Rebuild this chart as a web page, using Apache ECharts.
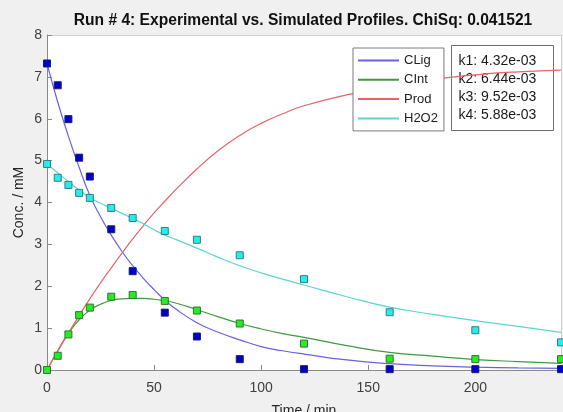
<!DOCTYPE html>
<html>
<head>
<meta charset="utf-8">
<script src="https://cdn.jsdelivr.net/npm/echarts@6/dist/echarts.min.js"></script>
<style>
html,body{margin:0;padding:0;background:#f0f0f0;}
#chart{width:563px;height:412px;}
</style>
</head>
<body>
<div id="chart"></div>
<script>
// Experimental data
var expT    = [0, 5, 10, 15, 20, 30, 40, 55, 70, 90, 120, 160, 200, 240];
var expCLig = [7.32, 6.80, 5.99, 5.07, 4.62, 3.36, 2.36, 1.37, 0.80, 0.26, 0.02, 0.02, 0.02, 0.02];
var expCInt = [0, 0.34, 0.85, 1.31, 1.49, 1.75, 1.79, 1.65, 1.42, 1.11, 0.63, 0.27, 0.26, 0.26];
var expH2O2 = [4.92, 4.59, 4.42, 4.23, 4.11, 3.87, 3.63, 3.32, 3.11, 2.74, 2.17, 1.38, 0.95, 0.66];

// Simulated profiles
var simT    = [0, 5, 10, 15, 20, 25, 30, 35, 40, 45, 50, 55, 60, 70, 80, 90, 100, 110, 120, 140, 160, 180, 200, 220, 240];
var simCLig = [7.32, 6.40, 5.58, 4.84, 4.17, 3.66, 3.22, 2.83, 2.49, 2.19, 1.92, 1.67, 1.46, 1.13, 0.90, 0.72, 0.56, 0.46, 0.38, 0.24, 0.15, 0.10, 0.07, 0.05, 0.04];
var simCInt = [0, 0.46, 0.88, 1.20, 1.43, 1.57, 1.66, 1.70, 1.71, 1.71, 1.69, 1.65, 1.60, 1.44, 1.27, 1.11, 0.98, 0.87, 0.78, 0.58, 0.42, 0.33, 0.25, 0.20, 0.16];
var simProd = [0, 0.45, 0.88, 1.30, 1.70, 2.08, 2.44, 2.79, 3.13, 3.45, 3.75, 4.03, 4.30, 4.80, 5.24, 5.60, 5.89, 6.12, 6.31, 6.57, 6.77, 6.94, 7.05, 7.12, 7.16];
var simH2O2 = [4.92, 4.71, 4.50, 4.30, 4.12, 3.98, 3.86, 3.74, 3.62, 3.49, 3.35, 3.22, 3.12, 2.91, 2.69, 2.49, 2.32, 2.17, 2.03, 1.75, 1.50, 1.33, 1.18, 1.04, 0.90];

var rateLabels = ['k1: 4.32e-03', 'k2: 6.44e-03', 'k3: 9.52e-03', 'k4: 5.88e-03'];

function pairs(xs, ys) { return xs.map(function (x, i) { return [x, ys[i]]; }); }

var FONT = '"Liberation Sans", Arial, sans-serif';
var axisGrey = '#8a8a8a';
var labelCol = '#404040';

var chart = echarts.init(document.getElementById('chart'), null, {renderer: 'canvas'});

function lineSeries(name, ys, color) {
  return {
    name: name, type: 'line', data: pairs(simT, ys),
    smooth: 0.5, symbol: 'none', z: 2,
    lineStyle: {color: color, width: 1.2}, itemStyle: {color: color}
  };
}
function dotSeries(name, ys, fill, border) {
  return {
    name: name, type: 'scatter', data: pairs(expT, ys),
    symbol: 'rect', symbolSize: 7, z: 3, clip: false,
    itemStyle: {color: fill, borderColor: border, borderWidth: 1, opacity: 1}
  };
}

var option = {
  backgroundColor: '#f0f0f0',
  animation: false,
  title: {
    text: 'Run # 4: Experimental vs. Simulated Profiles. ChiSq: 0.041521',
    left: 298, top: 8, textAlign: 'center',
    textStyle: {fontFamily: FONT, fontSize: 15.6, fontWeight: 'bold', color: '#111'}
  },
  grid: {left: 47, right: 2, top: 35, bottom: 42, show: true, backgroundColor: '#ffffff', borderWidth: 0,
         outerBoundsMode: 'none', containLabel: false},
  legend: {
    data: ['CLig', 'CInt', 'Prod', 'H2O2'],
    orient: 'vertical', left: 353, top: 48,
    itemWidth: 41, itemHeight: 10, itemGap: 6.3,
    padding: [6, 6, 6, 4],
    backgroundColor: '#ffffff', borderColor: '#7a7a7a', borderWidth: 1,
    itemStyle: {opacity: 0},
    textStyle: {fontFamily: FONT, fontSize: 13, color: '#222'},
    z: 10
  },
  xAxis: [{
    type: 'value', min: 0, max: 240, interval: 50,
    name: 'Time / min', nameLocation: 'middle', nameGap: 34, nameMoveOverlap: false,
    nameTextStyle: {fontFamily: FONT, fontSize: 14, color: '#262626'},
    axisLine: {show: true, onZero: false, lineStyle: {color: axisGrey, width: 1}},
    axisTick: {show: true, inside: true, length: 5, lineStyle: {color: axisGrey}},
    axisLabel: {fontFamily: FONT, fontSize: 14, color: labelCol, margin: 11, showMaxLabel: false},
    splitLine: {show: false}
  }, {
    type: 'value', min: 0, max: 240, interval: 50, position: 'top',
    axisLine: {show: true, onZero: false, lineStyle: {color: '#cfcfcf', width: 1}},
    axisTick: {show: false}, axisLabel: {show: false}, splitLine: {show: false}
  }],
  yAxis: [{
    type: 'value', min: 0, max: 8, interval: 1,
    name: 'Conc. / mM', nameLocation: 'middle', nameGap: 21, nameRotate: 90, nameMoveOverlap: false,
    nameTextStyle: {fontFamily: FONT, fontSize: 14, color: '#262626'},
    axisLine: {show: true, onZero: false, lineStyle: {color: axisGrey, width: 1}},
    axisTick: {show: true, inside: true, length: 5, lineStyle: {color: axisGrey}},
    axisLabel: {fontFamily: FONT, fontSize: 14, color: labelCol, margin: 5},
    splitLine: {show: false}
  }, {
    type: 'value', min: 0, max: 8, interval: 1, position: 'right',
    axisLine: {show: true, onZero: false, lineStyle: {color: '#cfcfcf', width: 1}},
    axisTick: {show: false}, axisLabel: {show: false}, splitLine: {show: false}
  }],
  graphic: [{
    type: 'group', left: 451, top: 45, z: 100,
    children: [{
      type: 'rect', shape: {x: 0, y: 0, width: 102, height: 85},
      style: {fill: '#ffffff', stroke: '#6f6f6f', lineWidth: 1}
    }, {
      type: 'text', x: 7, y: 6.5,
      style: {text: rateLabels.join('\n'), font: '14px ' + FONT, fill: '#1a1a1a', lineHeight: 18.1}
    }]
  }],
  series: [
    lineSeries('CLig', simCLig, '#6464e0'),
    lineSeries('CInt', simCInt, '#3f9a3f'),
    lineSeries('Prod', simProd, '#e66565'),
    lineSeries('H2O2', simH2O2, '#5fd3d3'),
    dotSeries('CLig exp', expCLig, '#0000cc', '#1c1c70'),
    dotSeries('CInt exp', expCInt, '#22ee22', '#3a6e3a'),
    dotSeries('H2O2 exp', expH2O2, '#22eeee', '#3a7c7c')
  ]
};
chart.setOption(option);
</script>
</body>
</html>
